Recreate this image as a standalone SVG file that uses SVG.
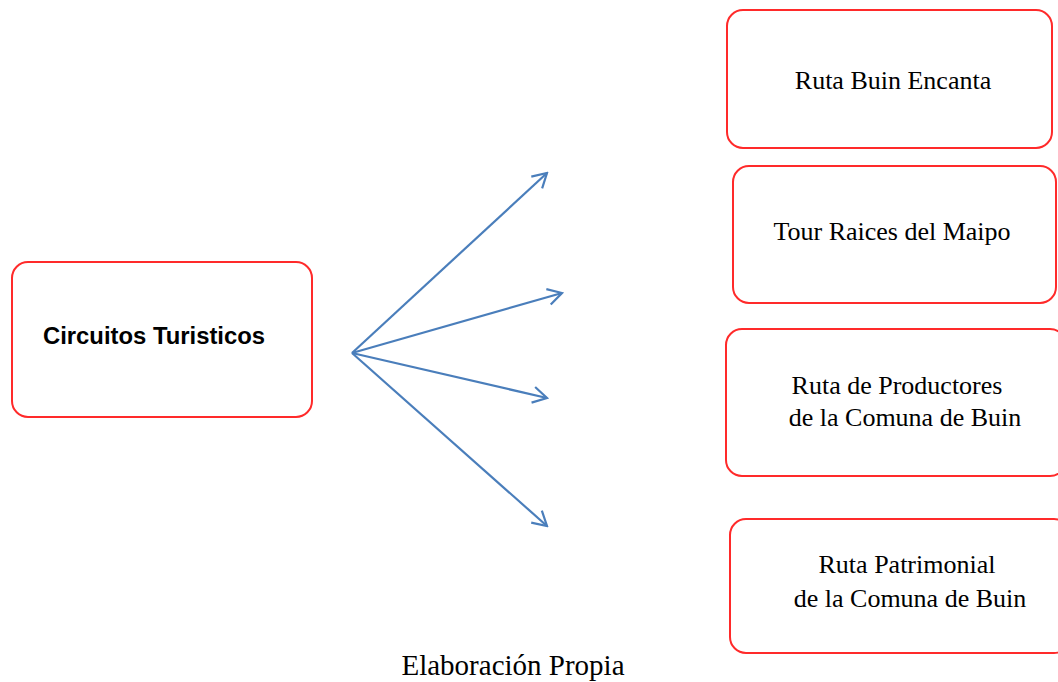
<svg xmlns="http://www.w3.org/2000/svg" width="1058" height="682" viewBox="0 0 1058 682">
<style>
.box{fill:#fff;stroke:#ff2a2a;stroke-width:2}
.t{font-family:"Liberation Serif","Times New Roman",serif;font-size:26px;fill:#000;text-anchor:middle}
.b{font-family:"Liberation Sans",Arial,sans-serif;font-size:23px;font-weight:bold;fill:#000;text-anchor:middle}
.c{stroke:#4a7ebb;stroke-width:2.2;fill:none}
.cap{font-family:"Liberation Serif","Times New Roman",serif;font-size:29px;fill:#000;text-anchor:middle}
</style>
<defs>
<marker id="arr" viewBox="0 0 20 20" refX="18" refY="10" markerWidth="20" markerHeight="20" markerUnits="userSpaceOnUse" orient="auto">
<path d="M4 2 L18 10 L4 18" fill="none" stroke="#4a7ebb" stroke-width="2.2"/>
</marker>
</defs>
<rect width="1058" height="682" fill="#fff"/>
<g id="n-circuitos">
<rect class="box" x="12" y="262" width="300" height="155" rx="16"/>
<text class="b" x="154" y="344" textLength="222" lengthAdjust="spacingAndGlyphs">Circuitos Turisticos</text>
</g>
<g id="n-buin-encanta">
<rect class="box" x="727" y="10" width="325" height="138" rx="16"/>
<text class="t" x="893" y="89">Ruta Buin Encanta</text>
</g>
<g id="n-raices">
<rect class="box" x="733" y="166" width="323" height="137" rx="16"/>
<text class="t" x="892" y="240">Tour Raices del Maipo</text>
</g>
<g id="n-productores">
<rect class="box" x="726" y="329" width="340" height="147" rx="16"/>
<text class="t" x="897" y="394">Ruta de Productores</text>
<text class="t" x="905" y="426">de la Comuna de Buin</text>
</g>
<g id="n-patrimonial">
<rect class="box" x="730" y="519" width="340" height="134" rx="16"/>
<text class="t" x="907" y="573">Ruta Patrimonial</text>
<text class="t" x="910" y="607">de la Comuna de Buin</text>
</g>
<g id="connectors">
<line class="c" x1="352" y1="353" x2="547" y2="173" marker-end="url(#arr)"/>
<line class="c" x1="352" y1="353" x2="562" y2="293" marker-end="url(#arr)"/>
<line class="c" x1="352" y1="353" x2="547" y2="398" marker-end="url(#arr)"/>
<line class="c" x1="352" y1="353" x2="547" y2="526" marker-end="url(#arr)"/>
</g>
<text class="cap" x="513" y="675">Elaboración Propia</text>
</svg>
